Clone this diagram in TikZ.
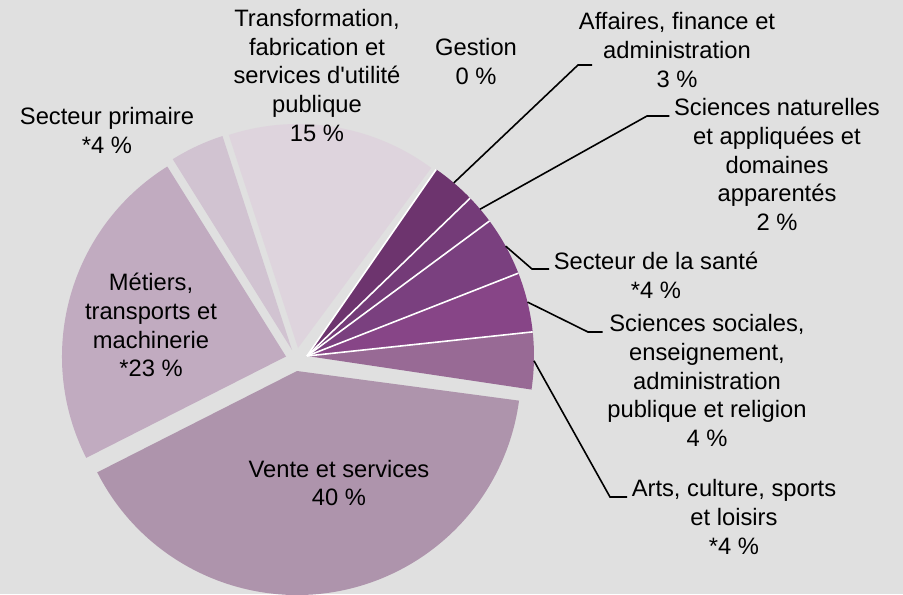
\documentclass[tikz,border=0pt]{standalone}
\usepackage{fontspec}
\newfontfamily\chartfont{Liberation Sans}
\usetikzlibrary{calc}

\definecolor{chartbg}{RGB}{224,224,224}
\definecolor{venteclr}{RGB}{174,148,172}
\definecolor{metiersclr}{RGB}{193,171,192}
\definecolor{primaireclr}{RGB}{209,195,209}
\definecolor{transfoclr}{RGB}{222,212,221}
\definecolor{affairesclr}{RGB}{109,52,110}
\definecolor{natclr}{RGB}{116,59,120}
\definecolor{santeclr}{RGB}{122,64,127}
\definecolor{socclr}{RGB}{135,69,135}
\definecolor{artsclr}{RGB}{152,106,149}

\begin{document}
\begin{tikzpicture}[x=0.75pt, y=0.75pt,
    lbl/.style={align=center, font=\chartfont\fontsize{17.8}{21.6}\selectfont},
    leader/.style={draw=black, line width=1.2pt},
    sep/.style={draw=white, line width=1.2pt}]
    % Background
    \fill[chartbg] (0,0) rectangle (903,594);
    \useasboundingbox (0,0) rectangle (903,594);

    % Slice apexes (exploded slices have their own)
    \coordinate (vente0) at (297,223);
    \coordinate (metiers0) at (286,237.5);
    \coordinate (primaire0) at (292,244);
    \coordinate (transfo0) at (298,246);
    \coordinate (purple0) at (307,238);

    % Light slices
    \fill[venteclr] (vente0) -- ++(206.9:224) arc[start angle=206.9, end angle=352.4, radius=224] -- cycle;
    \fill[metiersclr] (metiers0) -- ++(122:224) arc[start angle=122, end angle=206.9, radius=224] -- cycle;
    \fill[primaireclr] (primaire0) -- ++(108:225) arc[start angle=108, end angle=122, radius=225] -- cycle;
    \fill[transfoclr] (transfo0) -- ++(53.5:224) arc[start angle=53.5, end angle=108, radius=224] -- cycle;

    % Purple slices
    \fill[artsclr] (purple0) -- ++(-8.5:227) arc[start angle=-8.5, end angle=6.1, radius=227] -- cycle;
    \fill[socclr] (purple0) -- ++(6.1:227) arc[start angle=6.1, end angle=21.4, radius=227] -- cycle;
    \fill[santeclr] (purple0) -- ++(21.4:227) arc[start angle=21.4, end angle=36.5, radius=227] -- cycle;
    \fill[natclr] (purple0) -- ++(36.5:227) arc[start angle=36.5, end angle=44.05, radius=227] -- cycle;
    \fill[affairesclr] (purple0) -- ++(44.05:227) arc[start angle=44.05, end angle=55.3, radius=227] -- cycle;
    % white borders between them (Gestion 0 % sits on the last one)
    \draw[sep] (purple0) -- ++(6.1:227);
    \draw[sep] (purple0) -- ++(21.4:227);
    \draw[sep] (purple0) -- ++(36.5:227);
    \draw[sep] (purple0) -- ++(44.05:227);
    \draw[sep] (purple0) -- ++(55.3:227);

    % Labels on and around the pie
    \node[lbl] (transfo) at (317,518.5) {Transformation,\\fabrication et\\services d'utilité\\publique\\15 \%};
    \node[lbl] (gestion) at (476,532.5) {Gestion\\0 \%};
    \node[lbl] (primaire) at (107,463.5) {Secteur primaire\\*4 \%};
    \node[lbl] (metiers) at (151,269) {Métiers,\\transports et\\machinerie\\*23 \%};
    \node[lbl] (vente) at (339,111) {Vente et services\\40 \%};
    \node[lbl] (affaires) at (677,544) {Affaires, finance et\\administration\\3 \%};
    \node[lbl] (nat) at (777,429.5) {Sciences naturelles\\et appliquées et\\domaines\\apparentés\\2 \%};
    \node[lbl] (sante) at (656,319) {Secteur de la santé\\*4 \%};
    \node[lbl] (soc) at (707,213.5) {Sciences sociales,\\enseignement,\\administration\\publique et religion\\4 \%};
    \node[lbl] (arts) at (734,77) {Arts, culture, sports\\et loisirs\\*4 \%};

    % Leader lines
    \path (purple0) ++(49.7:227) coordinate (affrim);
    \path (purple0) ++(40.3:227) coordinate (natrim);
    \path (purple0) ++(28.95:227) coordinate (santerim);
    \path (purple0) ++(13.75:227) coordinate (socrim);
    \path (purple0) ++(-1.2:227) coordinate (artsrim);
    \coordinate (affbend) at (578,529);
    \coordinate (affend) at (592,529);
    \coordinate (natbend) at (647,478);
    \coordinate (santebend) at (532,325);
    \coordinate (socbend) at (588,262);
    \coordinate (artsbend) at (610,97);
    \draw[leader] (affrim) -- (affbend) -- (affend);
    \draw[leader] (natrim) -- (natbend) -- (nat.west |- natbend);
    \draw[leader] (santerim) -- (santebend) -- (sante.west |- santebend);
    \draw[leader] (socrim) -- (socbend) -- (soc.west |- socbend);
    \draw[leader] (artsrim) -- (artsbend) -- (arts.west |- artsbend);
\end{tikzpicture}
\end{document}
